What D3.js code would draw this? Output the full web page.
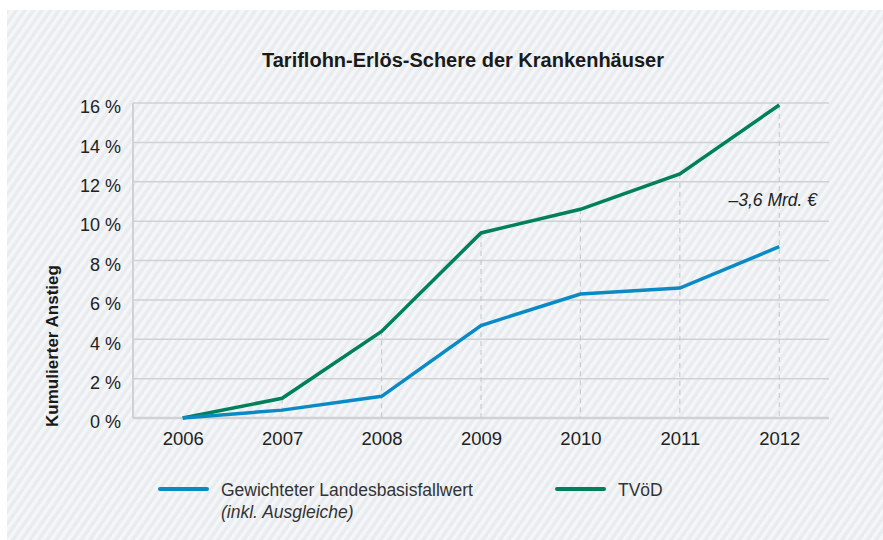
<!DOCTYPE html>
<html>
<head>
<meta charset="utf-8">
<script src="https://cdn.jsdelivr.net/npm/d3@7"></script>
<style>
  body { margin: 0; background: #fff; }
  svg { display: block; font-family: "Liberation Sans", Arial, sans-serif; }
</style>
</head>
<body>
<div id="chart"></div>
<script>
var years = [2006, 2007, 2008, 2009, 2010, 2011, 2012];
var landesbasis = [0, 0.4, 1.1, 4.7, 6.3, 6.6, 8.7];
var tvoed = [0, 1.0, 4.4, 9.4, 10.6, 12.4, 15.9];
var yTicks = [0, 2, 4, 6, 8, 10, 12, 14, 16];

var w = 883, h = 540;
var svg = d3.select("#chart").append("svg")
  .attr("width", w)
  .attr("height", h);

// striped background
var defs = svg.append("defs");
var pat = defs.append("pattern")
  .attr("id", "stripes")
  .attr("patternUnits", "userSpaceOnUse")
  .attr("width", 7)
  .attr("height", 7)
  .attr("patternTransform", "rotate(35)");
pat.append("rect").attr("width", 7).attr("height", 7).attr("fill", "#e9ecef");
pat.append("rect").attr("width", 3.5).attr("height", 7).attr("fill", "#f4f6f8");

svg.append("rect")
  .attr("x", 7).attr("y", 10)
  .attr("width", w - 7).attr("height", h - 10)
  .attr("fill", "url(#stripes)");

var x = d3.scaleLinear().domain([2005.5, 2012.5]).range([133, 829]);
var y = d3.scaleLinear().domain([0, 16]).range([418, 103]);

// gridlines
svg.append("g")
  .selectAll("line")
  .data(yTicks)
  .join("line")
    .attr("x1", 133).attr("x2", 829)
    .attr("y1", function (d) { return y(d); })
    .attr("y2", function (d) { return y(d); })
    .attr("stroke", "#cfd1d3")
    .attr("stroke-width", function (d) { return d === 0 ? 2.5 : 1.5; });

svg.append("line")
  .attr("x1", 133).attr("x2", 133)
  .attr("y1", y(16)).attr("y2", y(0))
  .attr("stroke", "#cfd1d3")
  .attr("stroke-width", 2);

// dashed verticals
svg.append("g")
  .selectAll("line")
  .data(years.slice(1))
  .join("line")
    .attr("x1", function (d) { return x(d); })
    .attr("x2", function (d) { return x(d); })
    .attr("y1", function (d, i) { return y(tvoed[i + 1]); })
    .attr("y2", y(0))
    .attr("stroke", "#c3c5c8")
    .attr("stroke-width", 1)
    .attr("stroke-dasharray", "5,4");

// y axis labels
var yAxis = d3.axisLeft(y)
  .tickValues(yTicks)
  .tickSize(0)
  .tickPadding(12)
  .tickFormat(function (d) { return d + " %"; });
var gy = svg.append("g")
  .attr("transform", "translate(133,4)")
  .call(yAxis);
gy.select(".domain").remove();
gy.selectAll("text")
  .attr("font-size", 18)
  .attr("fill", "#222")
  .attr("font-family", "Liberation Sans, Arial, sans-serif");

// x axis labels
var xAxis = d3.axisBottom(x)
  .tickValues(years)
  .tickSize(0)
  .tickPadding(14)
  .tickFormat(d3.format("d"));
var gx = svg.append("g")
  .attr("transform", "translate(0,418)")
  .call(xAxis);
gx.select(".domain").remove();
gx.selectAll("text")
  .attr("font-size", 18.5)
  .attr("fill", "#222")
  .attr("font-family", "Liberation Sans, Arial, sans-serif");

// lines
var line = d3.line()
  .x(function (d, i) { return x(years[i]); })
  .y(function (d) { return y(d); });

svg.append("path")
  .datum(tvoed)
  .attr("d", line)
  .attr("fill", "none")
  .attr("stroke", "#00805a")
  .attr("stroke-width", 3.5)
  .attr("stroke-linejoin", "miter");

svg.append("path")
  .datum(landesbasis)
  .attr("d", line)
  .attr("fill", "none")
  .attr("stroke", "#0a8ac4")
  .attr("stroke-width", 3.5)
  .attr("stroke-linejoin", "miter");

// title
svg.append("text")
  .attr("x", 463).attr("y", 67)
  .attr("text-anchor", "middle")
  .attr("font-size", 20)
  .attr("font-weight", "bold")
  .attr("fill", "#1a1a1a")
  .text("Tariflohn-Erlös-Schere der Krankenhäuser");

// y label
svg.append("text")
  .attr("transform", "translate(58,346) rotate(-90)")
  .attr("text-anchor", "middle")
  .attr("font-size", 17)
  .attr("font-weight", "bold")
  .attr("fill", "#1a1a1a")
  .text("Kumulierter Anstieg");

// annotation
svg.append("text")
  .attr("x", 817).attr("y", 206)
  .attr("text-anchor", "end")
  .attr("font-size", 17.5)
  .attr("font-style", "italic")
  .attr("fill", "#222")
  .text("\u20133,6 Mrd. \u20ac");

// legend
var legend = svg.append("g");
legend.append("line")
  .attr("x1", 160).attr("x2", 207).attr("y1", 489).attr("y2", 489)
  .attr("stroke", "#0a8ac4").attr("stroke-width", 4).attr("stroke-linecap", "round");
legend.append("text")
  .attr("x", 221).attr("y", 496)
  .attr("font-size", 17.5).attr("fill", "#333")
  .text("Gewichteter Landesbasisfallwert");
legend.append("text")
  .attr("x", 221).attr("y", 518)
  .attr("font-size", 17.5).attr("font-style", "italic").attr("fill", "#333")
  .text("(inkl. Ausgleiche)");
legend.append("line")
  .attr("x1", 557).attr("x2", 604).attr("y1", 489).attr("y2", 489)
  .attr("stroke", "#00805a").attr("stroke-width", 4).attr("stroke-linecap", "round");
legend.append("text")
  .attr("x", 618).attr("y", 496)
  .attr("font-size", 17.5).attr("fill", "#333")
  .text("TVöD");
</script>
</body>
</html>
